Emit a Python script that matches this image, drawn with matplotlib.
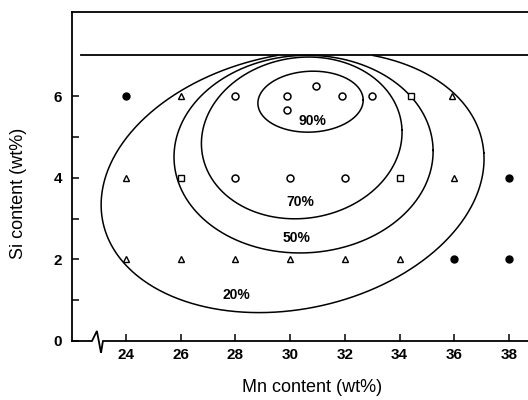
import numpy as np
import matplotlib
matplotlib.use("Agg")
import matplotlib.pyplot as plt

plt.rcParams['font.family'] = ['Liberation Sans', 'DejaVu Sans']

# Sample compositions (Mn wt%, Si wt%) grouped by marker type
filled_mn = [24, 38, 36, 38]
filled_si = [6, 4, 2, 2]
circle_mn = [28, 29.9, 29.9, 30.95, 31.9, 33, 28, 30, 32]
circle_si = [6, 6, 5.65, 6.25, 6, 6, 4, 4, 4]
square_mn = [34.4, 26, 34]
square_si = [6, 4, 4]
triangle_mn = [26, 35.9, 24, 36, 24, 26, 28, 30, 32, 34]
triangle_si = [6, 6, 4, 4, 2, 2, 2, 2, 2, 2]

# Iso-percentage contours, described as ellipses
contour_labels = ['20%', '50%', '70%', '90%']
contour_cx = [30.089, 30.490, 30.423, 30.745]
contour_cy = [3.898, 4.578, 4.975, 5.863]
contour_a = [7.023, 4.734, 3.669, 1.924]
contour_b = [3.14, 2.42, 1.975, 0.746]
contour_tilt = [5.75, 1.12, 3.01, 1.30]
label_mn = [28.02, 30.25, 30.36, 30.83]
label_si = [1.13, 2.52, 3.40, 5.39]

si_limit = 7.0
x_ticks = [24, 26, 28, 30, 32, 34, 36, 38]
y_ticks = [0, 2, 4, 6]
y_minor = [1, 3, 5]

fig = plt.figure(figsize=(5.28, 4.0), dpi=100)
ax = fig.add_axes([72/528, 1-341/400, 1-72/528, (341-12)/400])
x0, x1 = 22.03, 38.69
ax.set_xlim(x0, x1)
ax.set_ylim(0, 8.06)

lw = 1.1
t = np.linspace(0, 2*np.pi, 600)
for cx, cy, a, b, th in zip(contour_cx, contour_cy, contour_a, contour_b, contour_tilt):
    r = np.radians(th)
    ex = cx + a*np.cos(r)*np.cos(t) - b*np.sin(r)*np.sin(t)
    ey = cy + a*np.sin(r)*np.cos(t) + b*np.cos(r)*np.sin(t)
    ey = np.where(ey > si_limit, np.nan, ey)
    ax.plot(ex, ey, color='black', lw=lw)

ax.plot([22.36, x1], [si_limit, si_limit], color='black', lw=1.3, clip_on=False)

for s, x, y in zip(contour_labels, label_mn, label_si):
    ax.text(x, y, s, ha='center', va='center', fontsize=10, fontweight='bold')

mk = dict(linestyle='none', color='black', clip_on=False)
ax.plot(filled_mn, filled_si, marker='o', ms=5, mfc='black', mec='black', **mk)
ax.plot(circle_mn, circle_si, marker='o', ms=5, mfc='white', mec='black', mew=1.1, **mk)
ax.plot(square_mn, square_si, marker='s', ms=4.2, mfc='white', mec='black', mew=1.0, **mk)
ax.plot(triangle_mn, triangle_si, marker='^', ms=4.5, mfc='white', mec='black', mew=1.0, **mk)

# Axis line with a break near the origin
ax.spines['bottom'].set_visible(False)
ax.spines['right'].set_visible(False)
ax.spines['left'].set_linewidth(1.3)
ax.spines['top'].set_linewidth(1.3)
ax.plot([x0, 22.76, 22.94, 23.09, 23.16, x1], [0, 0, 0.245, -0.29, 0, 0],
        color='black', lw=1.3, clip_on=False, solid_joinstyle='miter')

ax.set_xticks(x_ticks)
ax.set_xticklabels([str(v) for v in x_ticks])
ax.set_yticks(y_ticks)
ax.set_yticklabels([str(v) for v in y_ticks])
ax.set_yticks(y_minor, minor=True)
ax.tick_params(axis='both', which='both', direction='in', length=5, width=1.1,
               labelsize=11)
ax.tick_params(axis='x', pad=5)
ax.tick_params(axis='y', pad=7)
for lab in ax.get_xticklabels() + ax.get_yticklabels():
    lab.set_fontweight('bold')

fig.text(312/528, 1-388/400, 'Mn content (wt%)', ha='center', va='center', fontsize=13)
fig.text(19/528, 1-193/400, 'Si content (wt%)', ha='center', va='center',
         rotation=90, fontsize=13)

fig.savefig("out.png", dpi=100)
